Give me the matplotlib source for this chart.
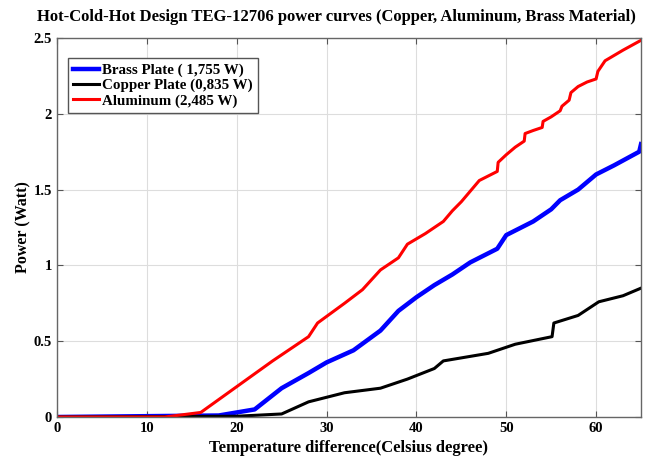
import matplotlib
matplotlib.use("Agg")
import matplotlib.pyplot as plt
from matplotlib.ticker import FuncFormatter

# temperature difference / power readings
al_t = [0, 12, 16, 20, 24, 28, 29, 32, 34, 36, 38, 39, 41, 43, 44, 45, 46, 47, 48, 49,
        49.1, 50, 51, 52, 52.1, 53, 54, 54.1, 55, 56, 56.2, 57, 57.2, 58, 59, 60, 60.2,
        61, 63, 65]
al_p = [0, 0, 0.03, 0.2, 0.37, 0.53, 0.62, 0.75, 0.84, 0.97, 1.05, 1.14, 1.21, 1.29,
        1.36, 1.42, 1.49, 1.56, 1.59, 1.62, 1.68, 1.73, 1.78, 1.82, 1.87, 1.89, 1.91,
        1.95, 1.98, 2.02, 2.05, 2.09, 2.14, 2.18, 2.21, 2.23, 2.28, 2.35, 2.42, 2.485]

br_t = [0, 18, 22, 25, 28, 30, 33, 36, 38, 40, 42, 44, 46, 49, 50, 53, 55, 56, 58,
        60, 62, 64.8, 65]
br_p = [0, 0.01, 0.05, 0.19, 0.29, 0.36, 0.44, 0.57, 0.70, 0.79, 0.87, 0.94, 1.02,
        1.11, 1.20, 1.29, 1.37, 1.43, 1.50, 1.60, 1.66, 1.75, 1.80]

cu_t = [0, 20, 25, 28, 32, 36, 39, 42, 43, 45, 48, 51, 55.1, 55.3, 58, 60.3, 63, 65]
cu_p = [0, 0.005, 0.02, 0.10, 0.16, 0.19, 0.25, 0.32, 0.37, 0.39, 0.42, 0.48, 0.53,
        0.62, 0.67, 0.76, 0.80, 0.85]

labels = ["Brass Plate ( 1,755 W)", "Copper Plate (0,835 W)", "Aluminum (2,485 W)"]
x_ticks = [0, 10, 20, 30, 40, 50, 60]
y_ticks = [0, 0.5, 1, 1.5, 2, 2.5]

plt.rcParams["font.family"] = ["Liberation Serif", "DejaVu Serif"]
plt.rcParams["font.weight"] = "bold"

fig = plt.figure(figsize=(6.49, 4.62), dpi=100)
ax = fig.add_axes([0.0878, 0.0974, 0.8999, 0.8203])

ax.plot(br_t, br_p, color="#0000ff", lw=3.2, label=labels[0])
ax.plot(cu_t, cu_p, color="black", lw=2.2, label=labels[1])
ax.plot(al_t, al_p, color="#ff0000", lw=2.2, label=labels[2])

ax.set_xlim(0, 65)
ax.set_ylim(0, 2.5)
ax.set_xticks(x_ticks)
ax.set_yticks(y_ticks)
ax.yaxis.set_major_formatter(FuncFormatter(lambda v, p: f"{v:g}"))
ax.tick_params(direction="in", top=True, right=True, labelsize=10.5, length=4,
               color="#555555")
for lab in ax.get_xticklabels() + ax.get_yticklabels():
    lab.set_fontweight("bold")
ax.grid(True, color="#dddddd", lw=0.8)
for s in ax.spines.values():
    s.set_color("#666666")
    s.set_linewidth(1.0)

ax.set_title("Hot-Cold-Hot Design TEG-12706 power curves (Copper, Aluminum, Brass Material)",
             fontsize=12, fontweight="bold", pad=12, x=0.479)
ax.set_xlabel("Temperature difference(Celsius degree)", fontsize=12, fontweight="bold",
              labelpad=4)
ax.set_ylabel("Power (Watt)", fontsize=11.5, fontweight="bold", labelpad=2)

leg = ax.legend(loc="upper left", bbox_to_anchor=(0.006, 0.967), fontsize=10.8,
                handlelength=1.75, handletextpad=0.2, borderpad=0.35, labelspacing=0.12,
                fancybox=False, framealpha=1, edgecolor="#555555")
leg.get_frame().set_linewidth(1.0)
for t in leg.get_texts():
    t.set_fontweight("bold")

fig.savefig("out.png", dpi=100)
